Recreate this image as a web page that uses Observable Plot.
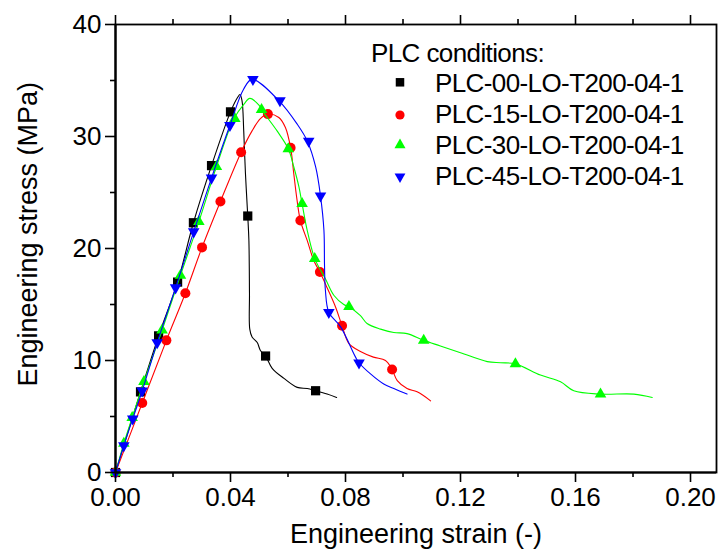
<!DOCTYPE html>
<html><head><meta charset="utf-8">
<script src="https://cdn.jsdelivr.net/npm/d3@7"></script>
<script src="https://cdn.jsdelivr.net/npm/@observablehq/plot@0.6"></script>
<style>
body{margin:0;background:#fff;}
#wrap{position:relative;width:718px;height:558px;font-family:"Liberation Sans",Arial,sans-serif;}
#legend{position:absolute;left:0;top:0;pointer-events:none;}
</style></head><body><div id="wrap"></div>
<script>
// ---- data ----
const xTicks = [0, 0.04, 0.08, 0.12, 0.16, 0.20];
const xMinorTicks = [0.02, 0.06, 0.10, 0.14, 0.18];
const yTicks = [0, 10, 20, 30, 40];
const yMinorTicks = [5, 15, 25, 35];
const seriesNames = ["PLC-00-LO-T200-04-1", "PLC-15-LO-T200-04-1", "PLC-30-LO-T200-04-1", "PLC-45-LO-T200-04-1"];
const seriesColors = ["#000000", "#ff0000", "#00ff00", "#0000ff"];

const plc00Line = [[0,0],[0.0087,7.2],[0.015,12.2],[0.0216,17.0],[0.0271,22.3],[0.0334,27.4],[0.040,32.2],[0.0425,33.5],[0.0433,33.75],[0.044,33.2],[0.0446,30.5],[0.0452,26.7],[0.046,22.9],[0.0464,20.7],[0.0466,16.0],[0.0467,12.8],[0.0475,12.1],[0.0493,11.6],[0.0504,10.9],[0.0522,10.4],[0.0545,9.3],[0.0586,8.4],[0.0632,7.6],[0.0667,7.5],[0.0696,7.3],[0.0736,7.0],[0.0769,6.7]];
const plc00Markers = [[0,0],[0.0087,7.2],[0.015,12.2],[0.0216,17.0],[0.0271,22.3],[0.0334,27.4],[0.040,32.2],[0.046,22.9],[0.0522,10.4],[0.0696,7.3]];

const plc15Line = [[0,0],[0.0093,6.2],[0.0177,11.8],[0.0243,16.0],[0.0301,20.1],[0.0365,24.2],[0.0437,28.6],[0.0475,30.5],[0.0504,31.6],[0.053,32.0],[0.0568,31.7],[0.0591,30.8],[0.0609,29.0],[0.062,26.7],[0.063,24.6],[0.0643,22.5],[0.0667,20.7],[0.069,18.9],[0.0711,17.9],[0.0736,16.5],[0.0765,14.8],[0.0788,13.1],[0.0812,11.5],[0.0852,10.8],[0.0897,10.3],[0.0939,10.0],[0.0962,9.2],[0.098,8.2],[0.1014,7.5],[0.1049,7.2],[0.1096,6.4]];
const plc15Markers = [[0,0],[0.0093,6.2],[0.0177,11.8],[0.0243,16.0],[0.0301,20.1],[0.0365,24.2],[0.0437,28.6],[0.053,32.0],[0.0609,29.0],[0.0643,22.5],[0.0711,17.9],[0.0788,13.1],[0.0962,9.2]];

const plc30Line = [[0,0],[0.0029,2.6],[0.0058,4.9],[0.0099,8.1],[0.0162,12.7],[0.0226,17.6],[0.029,22.4],[0.0351,27.3],[0.0412,31.6],[0.0447,32.9],[0.0467,33.4],[0.0499,32.8],[0.0508,32.4],[0.0562,30.5],[0.0601,28.9],[0.062,27.3],[0.0638,25.5],[0.0649,24.0],[0.0667,21.6],[0.0693,19.1],[0.073,17.3],[0.076,15.8],[0.0794,15.0],[0.0812,14.8],[0.0852,14.0],[0.0875,13.3],[0.0922,12.8],[0.0968,12.5],[0.1014,12.4],[0.1072,11.8],[0.113,11.3],[0.12,10.7],[0.1293,9.9],[0.1339,9.8],[0.1391,9.7],[0.1478,8.7],[0.1548,8.1],[0.1594,7.3],[0.1687,7.0],[0.1803,7.0],[0.1867,6.7]];
const plc30Markers = [[0,0],[0.0029,2.6],[0.0058,4.9],[0.0099,8.1],[0.0162,12.7],[0.0226,17.6],[0.029,22.4],[0.0351,27.3],[0.0415,31.6],[0.0508,32.4],[0.0601,28.9],[0.0649,24.0],[0.0693,19.1],[0.0812,14.8],[0.1072,11.8],[0.1391,9.7],[0.1687,7.0]];

const plc45Line = [[0,0],[0.0029,2.4],[0.006,4.8],[0.0093,7.3],[0.0145,11.6],[0.0209,16.5],[0.0272,21.5],[0.0334,26.3],[0.0398,31.0],[0.0445,34.2],[0.0475,35.1],[0.0568,33.2],[0.0632,31.1],[0.0667,29.6],[0.0696,27.3],[0.0713,24.7],[0.0725,21.6],[0.0727,18.5],[0.073,16.3],[0.0742,14.3],[0.0783,13.0],[0.0835,10.3],[0.0847,9.8],[0.0887,8.8],[0.0933,7.9],[0.0968,7.5],[0.1014,7.0]];
const plc45Markers = [[0,0],[0.0029,2.4],[0.006,4.8],[0.0093,7.3],[0.0145,11.6],[0.0209,16.5],[0.0272,21.5],[0.0334,26.3],[0.0398,31.0],[0.0478,35.1],[0.0572,33.2],[0.0672,29.6],[0.0713,24.7],[0.0742,14.3],[0.0847,9.8]];

// ---- build ----
const triangleDown = {
  draw(context, size) {
    const y = -Math.sqrt(size / (Math.sqrt(3) * 3));
    context.moveTo(0, -y * 2);
    context.lineTo(-Math.sqrt(3) * y, y);
    context.lineTo(Math.sqrt(3) * y, y);
    context.closePath();
  }
};
const toObj = a => a.map(([x, y]) => ({x, y}));
const series = [
  {line: plc00Line, markers: plc00Markers, symbol: "square", r: 5.2},
  {line: plc15Line, markers: plc15Markers, symbol: "circle", r: 5},
  {line: plc30Line, markers: plc30Markers, symbol: "triangle", r: 4.3},
  {line: plc45Line, markers: plc45Markers, symbol: triangleDown, r: 4.3}
];

const font = "'Liberation Sans', Arial, sans-serif";
const seriesMarks = series.flatMap((s, i) => [
  Plot.line(toObj(s.line), {x: "x", y: "y", stroke: seriesColors[i], strokeWidth: 1.1, curve: "catmull-rom"}),
  Plot.dot(toObj(s.markers), {x: "x", y: "y", symbol: () => s.symbol, fill: seriesColors[i], stroke: "none", r: s.r})
]);

const chart = Plot.plot({
  width: 718, height: 558,
  marginLeft: 115, marginRight: 2, marginTop: 24, marginBottom: 86,
  style: {fontFamily: font, fontSize: "26px", background: "#fff", color: "#000"},
  x: {domain: [0, 0.20904]},
  y: {domain: [0, 40]},
  marks: [
    ...seriesMarks,
    Plot.frame({stroke: "#000", strokeWidth: 1.8}),
    Plot.ruleX([0], {strokeWidth: 2.2}),
    Plot.ruleY([0], {strokeWidth: 2.2}),
    Plot.axisX({ticks: xTicks, tickFormat: d3.format(".2f"), tickSize: 10, tickPadding: 5, strokeWidth: 1.6, label: null, fontSize: 26}),
    Plot.axisX({ticks: xMinorTicks, tickSize: 5, text: null, label: null, strokeWidth: 1.6}),
    Plot.axisX({anchor: "top", ticks: xTicks, tickSize: 10, text: null, label: null, strokeWidth: 1.6}),
    Plot.axisX({anchor: "top", ticks: xMinorTicks, tickSize: 6, text: null, label: null, strokeWidth: 1.6}),
    Plot.axisY({ticks: yTicks, tickSize: 10, tickPadding: 4, strokeWidth: 1.6, label: null, fontSize: 26}),
    Plot.axisY({ticks: yMinorTicks, tickSize: 5, text: null, label: null, strokeWidth: 1.6}),
    Plot.text(["Engineering strain (-)"], {text: d => d, frameAnchor: "bottom", dy: 70, lineAnchor: "bottom", fontSize: 27}),
    Plot.text(["Engineering stress (MPa)"], {text: d => d, frameAnchor: "left", rotate: -90, dx: -78.3, dy: -14.3, textAnchor: "middle", lineAnchor: "bottom", fontSize: 27})
  ]
});
const wrap = document.getElementById("wrap");
wrap.appendChild(chart);

// ---- legend overlay ----
const legendTitle = "PLC conditions:";
const ns = "http://www.w3.org/2000/svg";
const lg = d3.create("svg").attr("id", "legend").attr("width", 718).attr("height", 558)
  .style("font-family", font).style("font-size", "26px").style("letter-spacing", "-0.6px");
lg.append("text").attr("x", 371).attr("y", 62).text(legendTitle);
const legendSym = [d3.symbolSquare, d3.symbolCircle, d3.symbolTriangle, triangleDown];
const legendSize = [Math.PI * 4.8 * 4.8, Math.PI * 4.6 * 4.6, Math.PI * 4.1 * 4.1, Math.PI * 4.0 * 4.0];
const rowY = [82.3, 115, 145, 176.7];
const baseY = [91.7, 122.7, 154, 185];
seriesNames.forEach((name, i) => {
  lg.append("path").attr("transform", `translate(400,${rowY[i]})`)
    .attr("d", d3.symbol(legendSym[i], legendSize[i])()).attr("fill", seriesColors[i]);
  lg.append("text").attr("x", 435).attr("y", baseY[i]).text(name);
});
wrap.appendChild(lg.node());
</script></body></html>
